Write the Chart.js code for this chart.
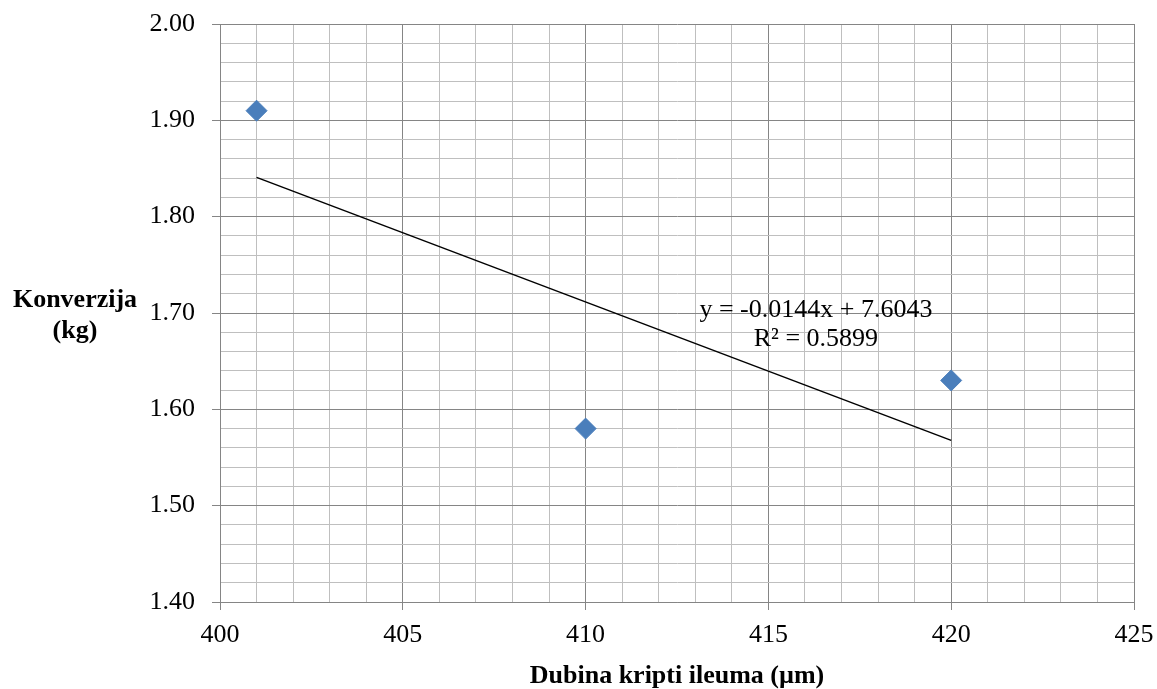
<!DOCTYPE html>
<html>
<head>
<meta charset="utf-8">
<title>Konverzija i dubina kripti ileuma</title>
<script src="https://cdn.jsdelivr.net/npm/chart.js@4.4.1/dist/chart.umd.min.js"></script>
<style>
  html, body { margin: 0; padding: 0; background: #ffffff; }
  canvas { display: block; }
</style>
</head>
<body>
<canvas id="chart" width="1157" height="689"></canvas>
<script>
// Measurements: crypt depth (µm) vs feed conversion (kg)
const depth = [401, 410, 420];
const conversion = [1.91, 1.58, 1.63];

// Axis ranges and steps
const xRange = [400, 425];
const xMajorStep = 5;
const xMinorStep = 1;
const yRange = [1.40, 2.00];
const yMajorStep = 0.10;
const yMinorStep = 0.02;

// Text
const xTitle = 'Dubina kripti ileuma (µm)';
const yTitle = ['Konverzija', '(kg)'];
const trendLabel = ['y = -0.0144x + 7.6043', 'R² = 0.5899'];
const trendLabelAnchor = { x: 416.3, y: 1.696 };

const FONT = "'Liberation Serif', 'Times New Roman', serif";
const MAJOR_GRID = '#858585';
const MINOR_GRID = '#bfbfbf';
const MARKER = '#4a7ebb';

// Least-squares linear trend through the measurements
function linearFit(xs, ys) {
  const n = xs.length;
  const mx = xs.reduce((a, b) => a + b, 0) / n;
  const my = ys.reduce((a, b) => a + b, 0) / n;
  let sxy = 0, sxx = 0;
  for (let i = 0; i < n; i++) {
    sxy += (xs[i] - mx) * (ys[i] - my);
    sxx += (xs[i] - mx) * (xs[i] - mx);
  }
  const slope = sxy / sxx;
  return { slope, intercept: my - slope * mx };
}
const fit = linearFit(depth, conversion);
const xMin = Math.min(...depth), xMax = Math.max(...depth);
const trendPoints = [xMin, xMax].map(x => ({ x, y: fit.slope * x + fit.intercept }));

const points = depth.map((x, i) => ({ x, y: conversion[i] }));

function isMajor(v, step) {
  const q = v / step;
  return Math.abs(q - Math.round(q)) < 1e-6;
}

// Horizontal two-line y-axis title and the trendline equation label
const annotations = {
  id: 'annotations',
  afterDraw(chart) {
    const { ctx, chartArea, scales } = chart;
    ctx.save();
    ctx.fillStyle = '#000';
    ctx.textAlign = 'center';
    ctx.textBaseline = 'middle';
    ctx.font = 'bold 26px ' + FONT;
    const cy = (chartArea.top + chartArea.bottom) / 2;
    ctx.fillText(yTitle[0], 75, cy - 13);
    ctx.fillText(yTitle[1], 75, cy + 18);

    ctx.font = '26px ' + FONT;
    ctx.textBaseline = 'alphabetic';
    const lx = scales.x.getPixelForValue(trendLabelAnchor.x);
    const ly = scales.y.getPixelForValue(trendLabelAnchor.y);
    ctx.fillText(trendLabel[0], lx, ly);
    ctx.fillText(trendLabel[1], lx, ly + 29);
    ctx.restore();
  }
};

new Chart(document.getElementById('chart'), {
  type: 'scatter',
  data: {
    datasets: [
      {
        label: 'Konverzija',
        data: points,
        pointStyle: 'rectRot',
        pointRadius: 10.5,
        pointHoverRadius: 10.5,
        backgroundColor: MARKER,
        borderColor: MARKER,
        borderWidth: 1
      },
      {
        label: 'Linearni trend',
        data: trendPoints,
        showLine: true,
        pointRadius: 0,
        borderColor: '#000000',
        borderWidth: 1.5,
        fill: false
      }
    ]
  },
  options: {
    responsive: false,
    animation: false,
    events: [],
    layout: { padding: { left: 0, top: 24, right: 23, bottom: 0 } },
    plugins: { legend: { display: false }, tooltip: { enabled: false } },
    scales: {
      x: {
        type: 'linear',
        min: xRange[0],
        max: xRange[1],
        afterFit(scale) {
          scale.height = 87;
          scale.paddingLeft = 0;
          scale.paddingRight = 0;
        },
        border: { color: MAJOR_GRID, width: 1 },
        grid: {
          color: c => isMajor(c.tick.value, xMajorStep) ? MAJOR_GRID : MINOR_GRID,
          tickColor: c => isMajor(c.tick.value, xMajorStep) ? MAJOR_GRID : 'rgba(0,0,0,0)',
          lineWidth: 1,
          tickLength: 8,
          drawTicks: true
        },
        ticks: {
          stepSize: xMinorStep,
          autoSkip: false,
          maxRotation: 0,
          maxTicksLimit: 200,
          padding: 10,
          color: '#000',
          font: { family: FONT, size: 26 },
          callback: v => isMajor(v, xMajorStep) ? String(Math.round(v)) : ''
        },
        title: {
          display: true,
          text: xTitle,
          color: '#000',
          font: { family: FONT, size: 26, weight: 'bold', lineHeight: 1 },
          padding: { top: 0, bottom: 0 }
        }
      },
      y: {
        type: 'linear',
        min: yRange[0],
        max: yRange[1],
        afterFit(scale) {
          scale.width = 220;
          scale.paddingTop = 0;
          scale.paddingBottom = 0;
        },
        border: { color: MAJOR_GRID, width: 1 },
        grid: {
          color: c => isMajor(c.tick.value, yMajorStep) ? MAJOR_GRID : MINOR_GRID,
          tickColor: c => isMajor(c.tick.value, yMajorStep) ? MAJOR_GRID : 'rgba(0,0,0,0)',
          lineWidth: 1,
          tickLength: 8,
          drawTicks: true
        },
        ticks: {
          stepSize: yMinorStep,
          autoSkip: false,
          maxTicksLimit: 200,
          padding: 17,
          color: '#000',
          font: { family: FONT, size: 26 },
          callback: v => isMajor(v, yMajorStep) ? v.toFixed(2) : ''
        }
      }
    }
  },
  plugins: [annotations]
});
</script>
</body>
</html>
